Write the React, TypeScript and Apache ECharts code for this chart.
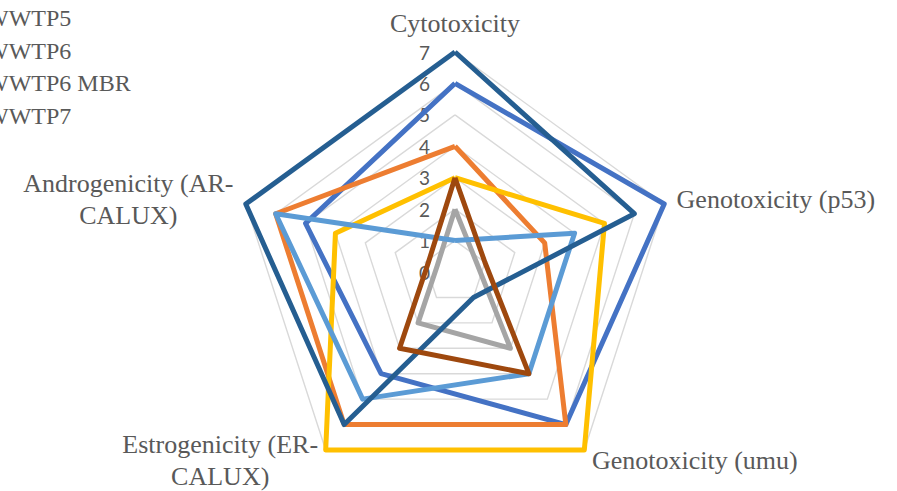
import React, { useEffect, useRef } from 'react';
import * as echarts from 'echarts';

// Axes in the picture, clockwise from the top
const categories = [
  'Cytotoxicity',
  'Genotoxicity (p53)',
  'Genotoxicity (umu)',
  'Estrogenicity (ER-CALUX)',
  'Androgenicity (AR-CALUX)',
];
const axisMin = 0;
const axisMax = 7;
const tickCount = 7;

const legendNames = ['WWTP5', 'WWTP6', 'WWTP6 MBR', 'WWTP7'];

// values in category order above
const seriesNames = ['WWTP1', 'WWTP2', 'WWTP3', 'WWTP5', 'WWTP6', 'WWTP6 MBR', 'WWTP7'];
const seriesColors = ['#4472C4', '#ED7D31', '#A5A5A5', '#FFC000', '#5B9BD5', '#255E91', '#9E480E'];
const valuesBlue = [6, 7, 6, 4, 5];
const valuesOrange = [4, 3, 6, 6, 6];
const valuesGray = [2, 0.75, 3, 2, 0.6];
const valuesYellow = [3, 5, 7, 7, 4];
const valuesLightBlue = [1, 4, 4, 5, 6];
const valuesDarkBlue = [7, 6, 1, 6, 7];
const valuesBrown = [3, 1, 4, 3, 0.9];
const seriesValues = [valuesBlue, valuesOrange, valuesGray, valuesYellow, valuesLightBlue, valuesDarkBlue, valuesBrown];

// ECharts places indicators counter-clockwise; reorder so the picture's clockwise order is kept
const order = [0, 4, 3, 2, 1];

const serif = 'Liberation Serif, Times New Roman, serif';
const textGray = '#595959';

export default function App() {
  const ref = useRef<HTMLDivElement>(null);
  useEffect(() => {
    if (!ref.current) return;
    document.body.style.margin = '0';
    const chart = echarts.init(ref.current, undefined, { renderer: 'svg' });
    chart.setOption({
      animation: false,
      backgroundColor: '#ffffff',
      legend: {
        orient: 'vertical',
        left: -44,
        top: 6,
        padding: 0,
        itemGap: 8.7,
        itemWidth: 25,
        itemHeight: 14,
        data: legendNames,
        textStyle: { fontFamily: serif, fontSize: 24, color: textGray, lineHeight: 24 },
      },
      radar: {
        center: [455, 272],
        radius: 220,
        startAngle: 90,
        splitNumber: tickCount,
        shape: 'polygon',
        nameGap: 13,
        indicator: order.map((i, k) => ({
          name: categories[i],
          min: axisMin,
          max: axisMax,
          axisLabel: { show: k === 0 },
        })),
        axisName: {
          color: textGray,
          fontFamily: serif,
          fontSize: 26,
          lineHeight: 32,
          formatter: (name: string) =>
            name
              .replace('-CALUX', '-\nCALUX')
              .split('\n')
              .map((l) => '{c|' + l + '}')
              .join('\n'),
          rich: {
            c: { align: 'center', color: textGray, fontFamily: serif, fontSize: 26, lineHeight: 32 },
          },
        },
        splitLine: { lineStyle: { color: '#D9D9D9', width: 1.4 } },
        splitArea: { show: false },
        axisLine: { show: false },
        axisTick: { show: false },
        axisLabel: {
          show: false,
          color: textGray,
          fontFamily: 'Lato, Carlito, sans-serif',
          fontSize: 19,
          margin: 25,
        },
      },
      series: seriesNames.map((name, s) => ({
        type: 'radar',
        name,
        symbol: 'none',
        color: seriesColors[s],
        lineStyle: { width: 5, color: seriesColors[s] },
        data: [{ name, value: order.map((i) => seriesValues[s][i]) }],
      })),
    });
    return () => chart.dispose();
  }, []);
  return <div ref={ref} style={{ position: 'fixed', left: 0, top: 0, width: 897, height: 491 }} />;
}
